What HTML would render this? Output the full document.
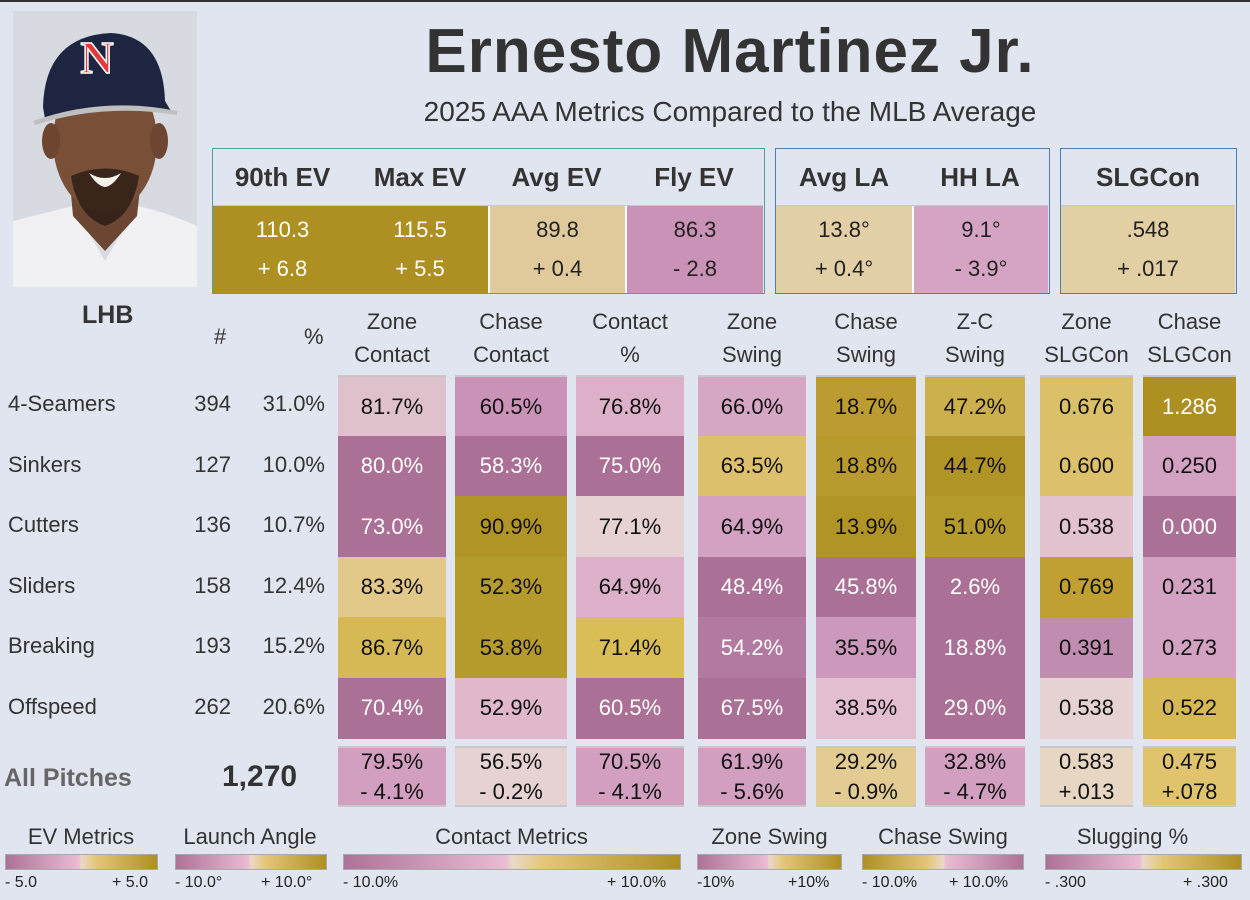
<!DOCTYPE html>
<html><head><meta charset="utf-8">
<style>
body{margin:0;width:1250px;height:900px;background:#e1e5ef;position:relative;overflow:hidden;font-family:"Liberation Sans","DejaVu Sans",sans-serif;color:#222}
.a{position:absolute}
.c{position:absolute;display:flex;align-items:center;justify-content:center;text-align:center;box-sizing:border-box}
.hd{color:#333;font-size:22px;line-height:33px}
.lb{font-size:22px;color:#333}
.box{position:absolute;box-sizing:border-box;background:#e1e5ef}
.bh{position:absolute;top:0;height:56px;display:flex;align-items:center;justify-content:center;font-weight:bold;font-size:26px;color:#333;border-bottom:2px solid #c8c8cc}
.bv{position:absolute;top:57px;height:87px;display:flex;flex-direction:column;justify-content:space-around;align-items:center;font-size:22px;padding:4px 0;box-sizing:border-box}
.lt{font-size:22px;color:#333;text-align:center}
.bar{position:absolute;top:854px;height:16px;border:1px solid #a9a9a9;box-sizing:border-box}
.tk{position:absolute;top:874px;font-size:16px;color:#222}
</style></head><body>
<div class="a" style="left:0;top:0;width:1250px;height:2px;background:#333"></div>

<svg class="a" style="left:13px;top:11px" width="184" height="276" viewBox="0 0 184 276">
<rect width="184" height="276" fill="#d7dbe1"/>
<path d="M0 210 Q40 200 60 195 L92 250 L124 195 Q150 200 184 215 L184 276 L0 276Z" fill="#f1f1f3"/>
<path d="M55 150 L60 205 L92 240 L124 205 L130 150Z" fill="#6b4632"/>
<ellipse cx="92" cy="130" rx="52" ry="72" fill="#7a4f38"/>
<ellipse cx="38" cy="130" rx="9" ry="18" fill="#6e4531"/>
<ellipse cx="146" cy="130" rx="9" ry="18" fill="#6e4531"/>
<path d="M58 165 Q92 150 126 165 Q120 205 92 215 Q64 205 58 165Z" fill="#2a1a14" opacity="0.8"/>
<path d="M76 162 Q92 172 108 162 Q100 175 92 176 Q84 175 76 162Z" fill="#f4f0ea"/>
<path d="M30 96 Q32 25 98 22 Q150 25 152 90 L158 100 Q120 90 32 108Z" fill="#1d2540"/>
<path d="M20 110 Q90 85 164 100 L164 104 Q90 92 22 114Z" fill="#bfbfbf"/>
<text x="84" y="62" font-family="Liberation Serif,serif" font-weight="bold" font-size="46" fill="#e23a3a" stroke="#fff" stroke-width="1.5" text-anchor="middle">N</text>
</svg>

<div class="a" style="left:340px;top:16px;width:780px;text-align:center;font-size:62px;font-weight:bold;color:#333;letter-spacing:1px">Ernesto Martinez Jr.</div>
<div class="a" style="left:340px;top:96px;width:780px;text-align:center;font-size:28px;color:#333">2025 AAA Metrics Compared to the MLB Average</div>

<!-- EV box -->
<div class="box" style="left:212px;top:148px;width:553px;height:146px;border:1.5px solid #4aa39c">
 <div class="bh" style="left:0;width:139px">90th EV</div>
 <div class="bh" style="left:139px;width:136px">Max EV</div>
 <div class="bh" style="left:275px;width:137px">Avg EV</div>
 <div class="bh" style="left:412px;width:138px">Fly EV</div>
 <div class="bv" style="left:0;width:275px;background:#ad8f22;flex-direction:row;padding:0"></div>
 <div class="bv" style="left:0;width:139px;color:#fff"><span>110.3</span><span>+ 6.8</span></div>
 <div class="bv" style="left:139px;width:136px;color:#fff"><span>115.5</span><span>+ 5.5</span></div>
 <div class="bv" style="left:275px;width:137px;background:#e0ca9c;border-left:2px solid #fff"><span>89.8</span><span>+ 0.4</span></div>
 <div class="bv" style="left:412px;width:138px;background:#c992b6;border-left:2px solid #fff"><span>86.3</span><span>- 2.8</span></div>
</div>
<div class="box" style="left:775px;top:148px;width:275px;height:146px;border:1.5px solid #4a7fb0">
 <div class="bh" style="left:0;width:136px">Avg LA</div>
 <div class="bh" style="left:136px;width:136px">HH LA</div>
 <div class="bv" style="left:0;width:136px;background:#e3cfa6"><span>13.8°</span><span>+ 0.4°</span></div>
 <div class="bv" style="left:136px;width:136px;background:#d5a4c4;border-left:2px solid #fff"><span>9.1°</span><span>- 3.9°</span></div>
</div>
<div class="box" style="left:1060px;top:148px;width:177px;height:146px;border:1.5px solid #4a7fb0">
 <div class="bh" style="left:0;width:174px">SLGCon</div>
 <div class="bv" style="left:0;width:174px;background:#e2cfa4"><span>.548</span><span>+ .017</span></div>
</div>

<div class="a" style="left:82px;top:301px;font-size:25px;font-weight:bold;color:#333">LHB</div>
<div class="a lb" style="left:214px;top:324px">#</div>
<div class="a lb" style="left:304px;top:324px">%</div>

<div id="grid"></div>

<div class="a" style="left:4px;top:764px;font-size:25px;font-weight:bold;color:#666">All Pitches</div>
<div class="a" style="left:222px;top:760px;font-size:30px;font-weight:bold;color:#333">1,270</div>

<!-- legends -->
<div class="a lt" style="left:5px;top:824px;width:152px">EV Metrics</div>
<div class="a lt" style="left:170px;top:824px;width:160px">Launch Angle</div>
<div class="a lt" style="left:343px;top:824px;width:337px">Contact Metrics</div>
<div class="a lt" style="left:697px;top:824px;width:145px">Zone Swing</div>
<div class="a lt" style="left:862px;top:824px;width:162px">Chase Swing</div>
<div class="a lt" style="left:1045px;top:824px;width:175px">Slugging %</div>

<div class="bar" style="left:5px;width:153px;background:linear-gradient(90deg,#ad7298,#e8bcd2 48%,#ead8c8 50%,#e2c676 60%,#ad8f22)"></div>
<div class="bar" style="left:175px;width:152px;background:linear-gradient(90deg,#ad7298,#e8bcd2 48%,#ead8c8 50%,#e2c676 60%,#ad8f22)"></div>
<div class="bar" style="left:343px;width:338px;background:linear-gradient(90deg,#ad7298,#e8bcd2 48%,#ead8c8 50%,#e2c676 60%,#ad8f22)"></div>
<div class="bar" style="left:697px;width:145px;background:linear-gradient(90deg,#ad7298,#e8bcd2 48%,#ead8c8 50%,#e2c676 60%,#ad8f22)"></div>
<div class="bar" style="left:862px;width:162px;background:linear-gradient(90deg,#ad8f22,#e2c676 40%,#ead8c8 50%,#e8bcd2 52%,#ad7298)"></div>
<div class="bar" style="left:1045px;width:197px;background:linear-gradient(90deg,#ad7298,#e8bcd2 48%,#ead8c8 50%,#e2c676 60%,#ad8f22)"></div>

<div class="tk" style="left:5px">- 5.0</div>
<div class="tk" style="left:112px">+ 5.0</div>
<div class="tk" style="left:175px">- 10.0°</div>
<div class="tk" style="left:261px">+ 10.0°</div>
<div class="tk" style="left:343px">- 10.0%</div>
<div class="tk" style="left:607px">+ 10.0%</div>
<div class="tk" style="left:697px">-10%</div>
<div class="tk" style="left:788px">+10%</div>
<div class="tk" style="left:862px">- 10.0%</div>
<div class="tk" style="left:949px">+ 10.0%</div>
<div class="tk" style="left:1045px">- .300</div>
<div class="tk" style="left:1183px">+ .300</div>

<script>
const pitchTypes=["4-Seamers","Sinkers","Cutters","Sliders","Breaking","Offspeed"];
const counts=["394","127","136","158","193","262"];
const pcts=["31.0%","10.0%","10.7%","12.4%","15.2%","20.6%"];
const colHeaders=[["Zone","Contact"],["Chase","Contact"],["Contact","%"],["Zone","Swing"],["Chase","Swing"],["Z-C","Swing"],["Zone","SLGCon"],["Chase","SLGCon"]];
const values=[
["81.7%","60.5%","76.8%","66.0%","18.7%","47.2%","0.676","1.286"],
["80.0%","58.3%","75.0%","63.5%","18.8%","44.7%","0.600","0.250"],
["73.0%","90.9%","77.1%","64.9%","13.9%","51.0%","0.538","0.000"],
["83.3%","52.3%","64.9%","48.4%","45.8%","2.6%","0.769","0.231"],
["86.7%","53.8%","71.4%","54.2%","35.5%","18.8%","0.391","0.273"],
["70.4%","52.9%","60.5%","67.5%","38.5%","29.0%","0.538","0.522"]];
const cellColors=[
["#dfc1cc","#c992b6","#dcb0c8","#d6a7c4","#bc9c32","#cdb04e","#dbc06a","#ad8f22"],
["#ab7096","#ab7096","#ab7096","#dcc06c","#b99a2e","#b09526","#dcc06c","#d3a2c3"],
["#ab7096","#b09526","#e6d2d2","#d3a2c3","#b09526","#b59a2c","#e3c2d0","#ab7096"],
["#e2c98a","#b59a2c","#dcb0c8","#ab7096","#ab7096","#ab7096","#c0a030","#d3a2c3"],
["#d6b955","#b59a2c","#d9bd55","#b27aa0","#cc98bb","#ab7096","#c08cb0","#d3a2c3"],
["#ab7096","#e0b7cb","#ab7096","#ab7096","#e3bdd0","#ab7096","#e6d2d2","#d6b955"]];
const whiteText=[
[0,0,0,0,0,0,0,1],[1,1,1,0,0,0,0,0],[1,0,0,0,0,0,0,1],
[0,0,0,1,1,1,0,0],[0,0,0,1,0,1,0,0],[1,0,1,1,0,1,0,0]];
const totals=["79.5%","56.5%","70.5%","61.9%","29.2%","32.8%","0.583","0.475"];
const diffs=["- 4.1%","- 0.2%","- 4.1%","- 5.6%","- 0.9%","- 4.7%","+.013","+.078"];
const totalColors=["#d39fc1","#e6d2d2","#d39fc1","#d39fc1","#e2cc93","#d39fc1","#e6d6c2","#dfc46d"];

const colX=[338,455,576,698,816,925,1040,1143];
const colW=[108,112,108,108,100,100,93,93];
const rowY0=375, rowH=60.5;
const g=document.getElementById('grid');
function mk(cls,style,html){const d=document.createElement('div');d.className=cls;d.setAttribute('style',style);d.innerHTML=html;g.appendChild(d);return d;}
colHeaders.forEach((h,j)=>{
 const d=mk('a hd','left:'+(colX[j]-10)+'px;top:305px;width:'+(colW[j]+20)+'px;text-align:center',h[0]+'<br>'+h[1]);
 
 
});
pitchTypes.forEach((p,i)=>{
 const y=rowY0+i*rowH;
 let d=mk('a lb','left:8px;top:'+(y+16)+'px',p);
 
 
 d=mk('a lb','left:150px;width:81px;text-align:right;top:'+(y+16)+'px',counts[i]);
 
 
 d=mk('a lb','left:230px;width:95px;text-align:right;top:'+(y+16)+'px',pcts[i]);
 
 
 values[i].forEach((v,j)=>{
  const c=mk('c','left:'+colX[j]+'px;top:'+y+'px;width:'+colW[j]+'px;height:'+(rowH+0.5)+'px;font-size:22px;background:'+cellColors[i][j]+';color:'+(whiteText[i][j]?'#fff':'#111')+(i==0?';border-top:2px solid #c8c8cc':''),v);
  
  
 });
});
totals.forEach((t,j)=>{
 const c=mk('c','left:'+colX[j]+'px;top:746px;width:'+colW[j]+'px;height:61px;flex-direction:column;font-size:22px;line-height:30px;background:'+totalColors[j]+';color:#111;border-top:2px solid #c8c8cc;border-bottom:2px solid #c8c8cc',t+'<br>'+diffs[j]);
 
 
});
</script>
</body></html>
